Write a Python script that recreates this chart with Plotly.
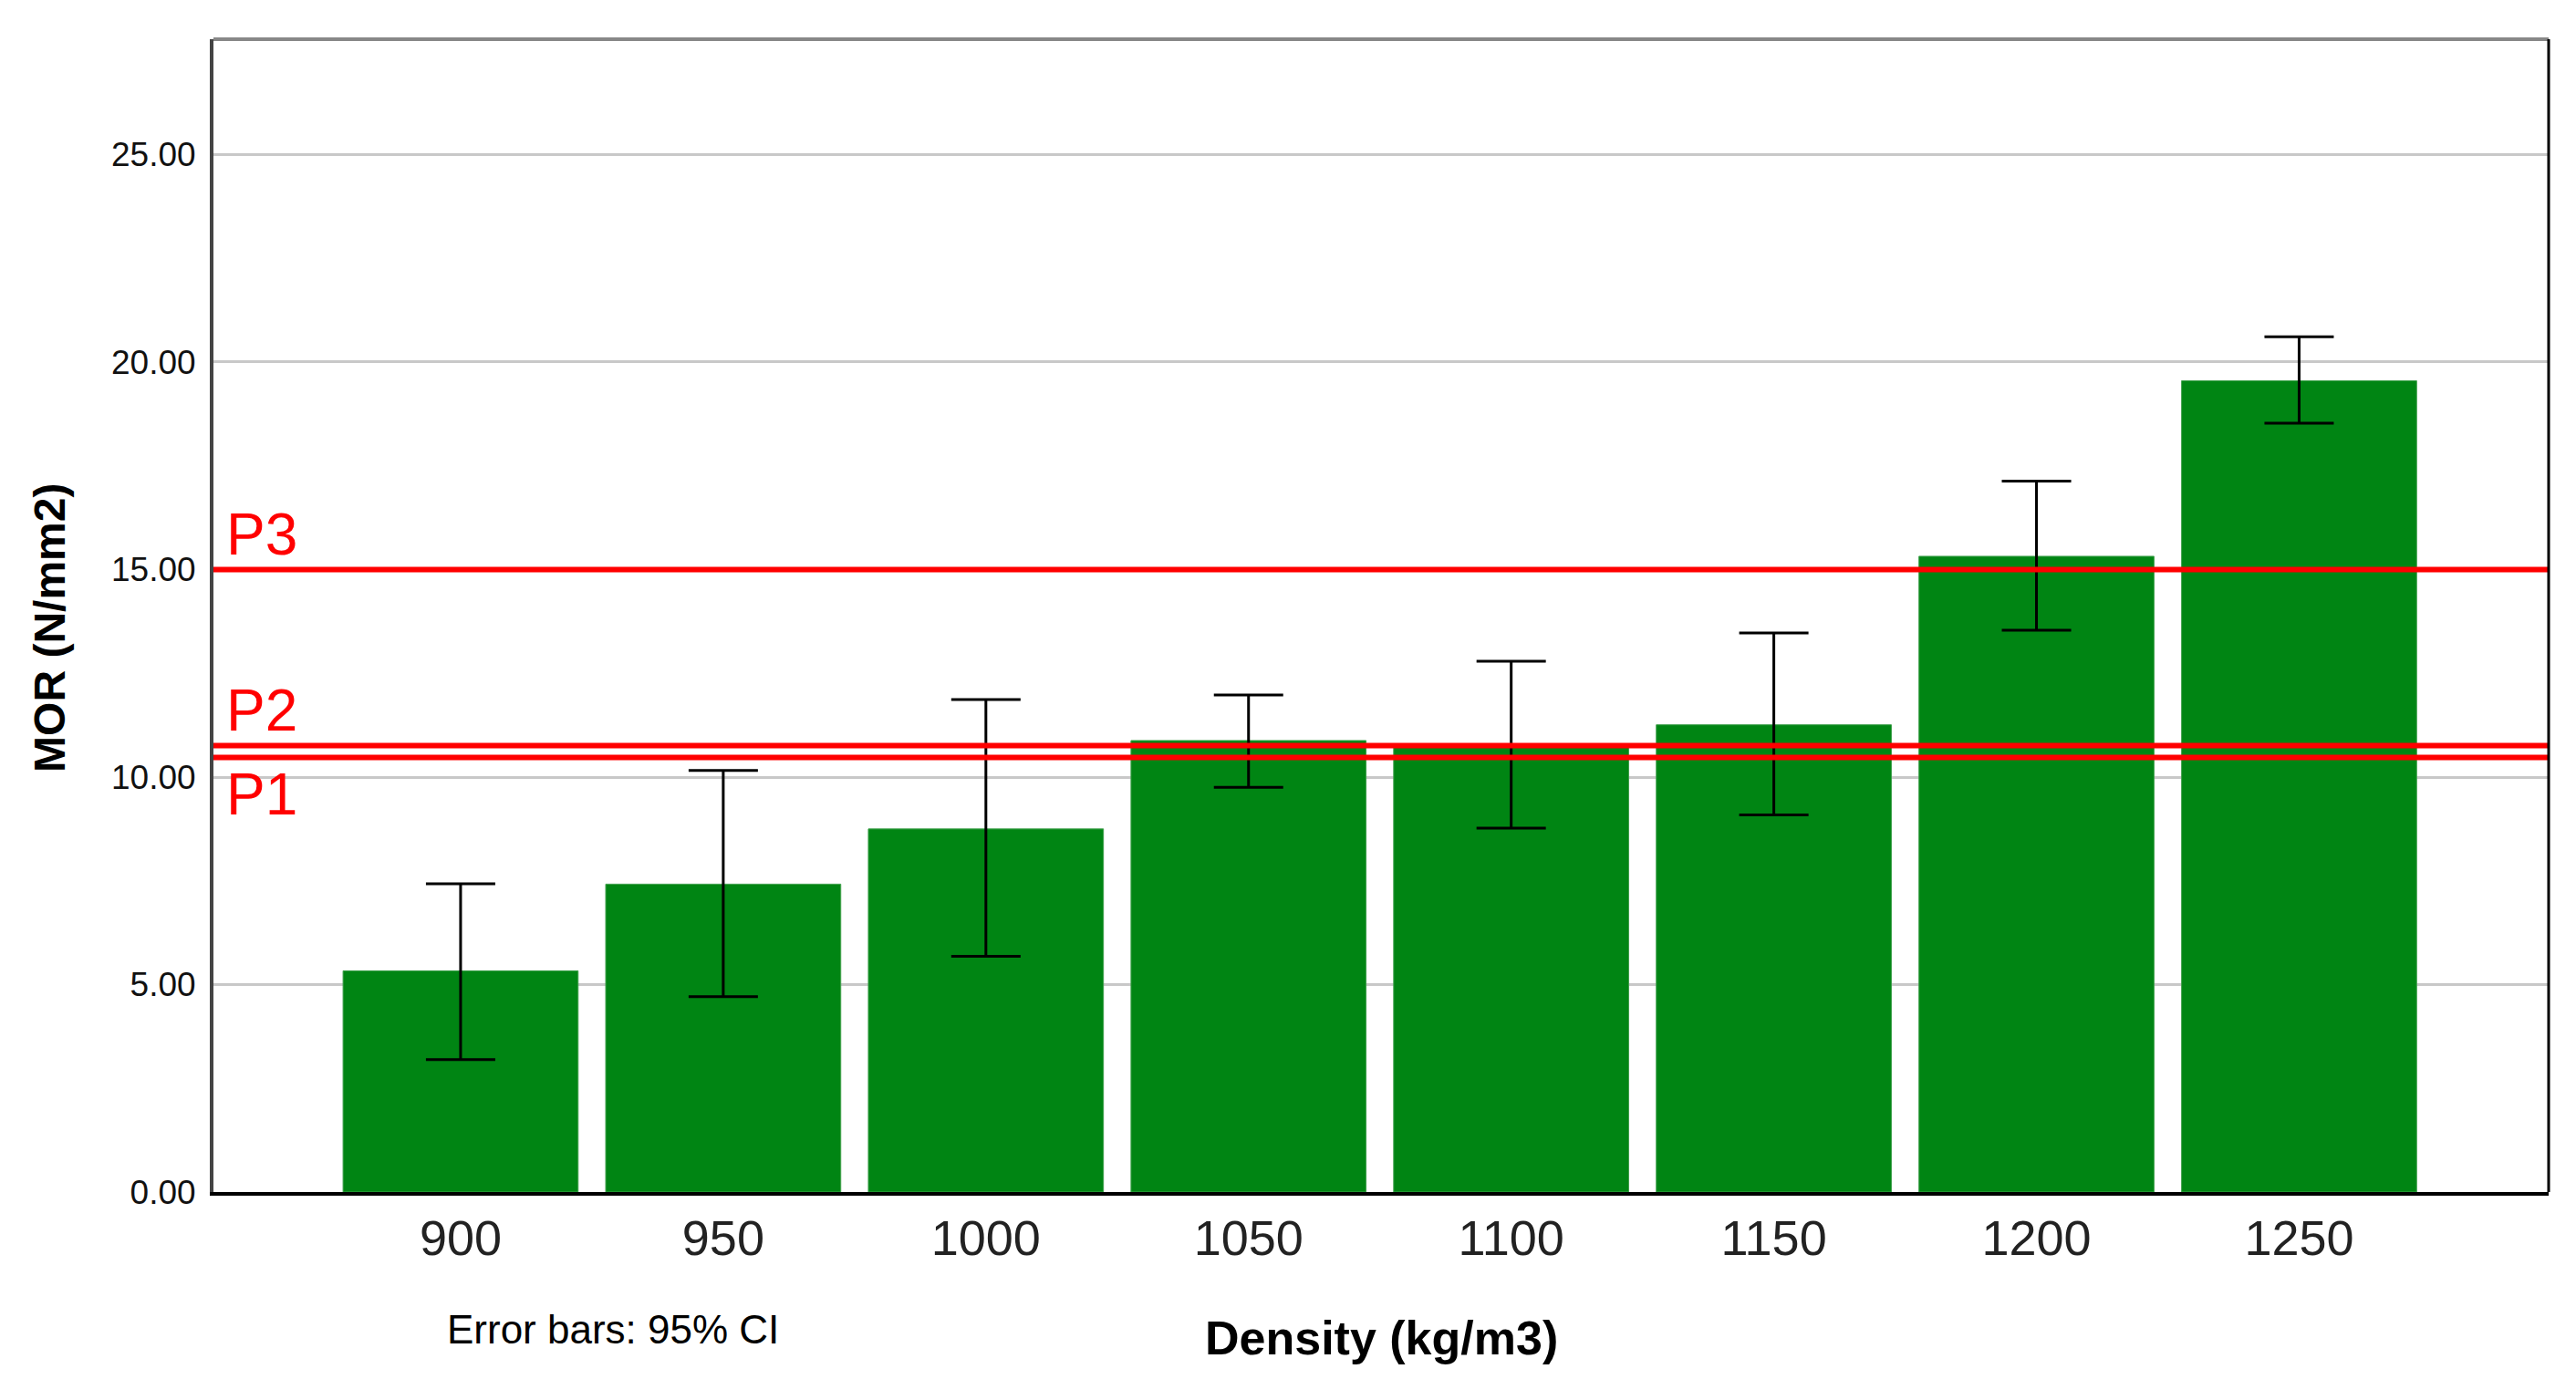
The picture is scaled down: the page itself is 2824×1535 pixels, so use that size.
import plotly.graph_objects as go

# density classes and MOR means with 95% CI bounds
density = ["900", "950", "1000", "1050", "1100", "1150", "1200", "1250"]
mor_mean = [5.33, 7.42, 8.75, 10.88, 10.78, 11.26, 15.32, 19.55]
ci_upper = [7.43, 10.16, 11.87, 11.98, 12.79, 13.47, 17.13, 20.61]
ci_lower = [3.19, 4.71, 5.68, 9.75, 8.77, 9.09, 13.54, 18.53]

# requirement levels
ref_labels = ["P1", "P2", "P3"]
ref_values = [10.47, 10.76, 15.0]

y_ticks = [0, 5, 10, 15, 20, 25]

err_plus = [u - m for u, m in zip(ci_upper, mor_mean)]
err_minus = [m - l for m, l in zip(mor_mean, ci_lower)]

font = "Arial, Liberation Sans, sans-serif"

fig = go.Figure()

fig.add_trace(go.Bar(
    x=density,
    y=mor_mean,
    width=0.895,
    marker=dict(color="#008513", line=dict(color="#3fa04c", width=1)),
    error_y=dict(
        type="data",
        array=err_plus,
        arrayminus=err_minus,
        color="black",
        thickness=3,
        width=38,
    ),
    showlegend=False,
))

# red reference lines with their labels
for label, val in zip(ref_labels, ref_values):
    fig.add_hline(y=val, line=dict(color="#ff0000", width=6), layer="above")
    fig.add_annotation(
        x=0, xref="paper", y=val, yref="y",
        text=label, showarrow=False,
        xanchor="left", xshift=12,
        yanchor="top" if label == "P1" else "bottom",
        yshift=-2 if label == "P1" else 0,
        font=dict(family=font, size=64, color="#ff0000"),
    )

# top and right frame lines
fig.add_shape(type="line", xref="paper", yref="paper", x0=0, x1=1, y0=1, y1=1,
              line=dict(color="#888888", width=4), layer="above")
fig.add_shape(type="line", xref="paper", yref="paper", x0=1, x1=1, y0=0, y1=1,
              line=dict(color="black", width=3), layer="above")

fig.add_annotation(
    x=0.5, xref="paper", xanchor="center",
    y=0, yref="paper", yanchor="middle", yshift=-160,
    text="<b>Density (kg/m3)</b>", showarrow=False,
    font=dict(family=font, size=52, color="black"),
)
fig.add_annotation(
    x=0.171, xref="paper", xanchor="center",
    y=0, yref="paper", yanchor="middle", yshift=-150,
    text="Error bars: 95% CI", showarrow=False,
    font=dict(family=font, size=44, color="black"),
)
fig.add_annotation(
    x=0, xref="paper", xshift=-179, xanchor="center",
    y=0.489, yref="paper", yanchor="middle",
    text="<b>MOR (N/mm2)</b>", textangle=-90, showarrow=False,
    font=dict(family=font, size=48, color="black"),
)

fig.update_layout(
    width=2808,
    height=1519,
    margin=dict(l=226, r=22, t=35, b=220),
    plot_bgcolor="white",
    paper_bgcolor="white",
    font=dict(family=font, color="black"),
    xaxis=dict(
        type="category",
        range=[-0.941, 7.95],
        showgrid=False,
        showline=True,
        linecolor="black",
        linewidth=4,
        ticks="",
        tickfont=dict(size=54, color="#222222"),
        ticklabelstandoff=0,
    ),
    yaxis=dict(
        range=[0, 27.78],
        tickvals=y_ticks,
        tickformat=".2f",
        showgrid=True,
        gridcolor="#c8c8c8",
        gridwidth=3,
        zeroline=False,
        showline=True,
        linecolor="#444444",
        linewidth=4,
        ticks="",
        tickfont=dict(size=37, color="#111111"),
        ticklabelstandoff=8,
    ),
)

fig.write_html("out.html")
